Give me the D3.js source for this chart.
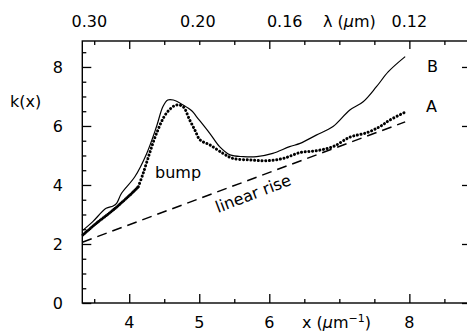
<!DOCTYPE html>
<html>
<head>
<meta charset="utf-8">
<script src="https://cdn.jsdelivr.net/npm/d3@7"></script>
<style>
  body { margin: 0; background: #fff; }
  svg text { font-family: "DejaVu Sans", sans-serif; font-size: 16px; fill: #000; }
</style>
</head>
<body>
<svg id="chart" width="467" height="331"></svg>
<script>
// curve B (thin solid)
const xB = [3.34, 3.48, 3.67, 3.77, 3.82, 3.89, 4.08, 4.25, 4.39, 4.48, 4.55, 4.63, 4.77, 4.90, 4.96,
  5.15, 5.29, 5.44, 5.63, 5.82, 6.05, 6.29, 6.44, 6.67, 6.91, 7.15, 7.34, 7.53, 7.70, 7.94];
const kB = [2.47, 2.76, 3.21, 3.29, 3.38, 3.72, 4.28, 5.07, 5.98, 6.65, 6.88, 6.88, 6.71, 6.50, 6.32,
  5.75, 5.30, 5.02, 4.96, 4.96, 5.07, 5.30, 5.41, 5.69, 5.98, 6.54, 6.82, 7.33, 7.84, 8.35];

// curve A (dots)
const xA = [3.34, 3.53, 3.77, 4.01, 4.13, 4.20, 4.29, 4.39, 4.53, 4.67, 4.77, 4.86, 4.94, 5.01, 5.15,
  5.34, 5.48, 5.72, 5.96, 6.20, 6.44, 6.67, 6.91, 7.15, 7.39, 7.58, 7.72, 7.96];
const kA = [2.31, 2.70, 3.15, 3.66, 3.94, 4.40, 5.07, 5.75, 6.43, 6.71, 6.65, 6.22, 5.85, 5.53, 5.36,
  5.07, 4.90, 4.85, 4.82, 4.90, 5.10, 5.16, 5.30, 5.62, 5.77, 5.98, 6.20, 6.49];

// linear rise (dashed)
const xRise = [3.33, 7.94];
const kRise = [2.06, 6.14];

// axes
const xMajor = [4, 5, 6, 8];
const xMinor = [3.5, 4.5, 5.5, 6.5, 7, 7.5, 8.5];
const topMajor = [4, 6, 8];
const topMinor = [3.5, 4.5, 5, 5.5, 6.5, 7, 7.5, 8.5];
const yMajor = [0, 2, 4, 6, 8];
const yMinor = [0.5, 1, 1.5, 2.5, 3, 3.5, 4.5, 5, 5.5, 6.5, 7, 7.5, 8.5];
// wavelength labels along the top, at the x positions where they sit
const lamLabels = ["0.30", "0.20", "0.16", "0.12"];
const lamAt = [3.43, 4.98, 6.22, 8.0];

const svg = d3.select("#chart");
const x = d3.scaleLinear().domain([3.33, 8.88]).range([82.3, 471]);
const y = d3.scaleLinear().domain([0, 8.88]).range([303, 41]);

// frame
svg.append("rect")
  .attr("x", x(3.33)).attr("y", y(8.88))
  .attr("width", x(8.88) - x(3.33)).attr("height", y(0) - y(8.88))
  .attr("fill", "none").attr("stroke", "#000").attr("stroke-width", 1.4);

function ticks(axis, vals, size, tx, ty) {
  const g = svg.append("g")
    .attr("transform", `translate(${tx},${ty})`)
    .call(axis.tickValues(vals).tickSize(size).tickFormat(""));
  g.select(".domain").remove();
  g.selectAll("line").attr("stroke", "#000").attr("stroke-width", 1.3);
}

ticks(d3.axisBottom(x), xMajor, -9, 0, y(0));
ticks(d3.axisBottom(x), xMinor, -4, 0, y(0));
ticks(d3.axisTop(x), topMajor, -8, 0, y(8.88));
ticks(d3.axisTop(x), topMinor, -4, 0, y(8.88));
ticks(d3.axisLeft(y), yMajor, -9, x(3.33), 0);
ticks(d3.axisLeft(y), yMinor, -4, x(3.33), 0);
ticks(d3.axisRight(y), yMajor, -9, x(8.88), 0);
ticks(d3.axisRight(y), yMinor, -4, x(8.88), 0);

// tick labels
svg.append("g").selectAll("text").data(xMajor).join("text")
  .attr("x", d => x(d)).attr("y", 328).attr("text-anchor", "middle").text(d => d);
svg.append("g").selectAll("text").data(yMajor).join("text")
  .attr("x", 63).attr("y", d => y(d) + 6).attr("text-anchor", "end").text(d => d);
svg.append("g").selectAll("text").data(lamLabels).join("text")
  .attr("x", (d, i) => x(lamAt[i])).attr("y", 27).attr("text-anchor", "middle").text(d => d);

// axis titles
svg.append("text").attr("x", 10).attr("y", 107).text("k(x)");
const xt = svg.append("text").attr("x", 302).attr("y", 328);
xt.append("tspan").text("x (");
xt.append("tspan").style("font-style", "italic").text("μ");
xt.append("tspan").text("m");
xt.append("tspan").attr("dy", -6).style("font-size", "11px").text("−1");
xt.append("tspan").attr("dy", 6).text(")");
const lt = svg.append("text").attr("x", 323).attr("y", 27);
lt.append("tspan").text("λ (");
lt.append("tspan").style("font-style", "italic").text("μ");
lt.append("tspan").text("m)");

// curves
const pts = (xs, ks) => xs.map((v, i) => [x(v), y(ks[i])]);
const line = d3.line().curve(d3.curveCatmullRom.alpha(0.5));

svg.append("path")
  .attr("d", d3.line()(pts(xRise, kRise)))
  .attr("fill", "none").attr("stroke", "#000").attr("stroke-width", 1.5)
  .attr("stroke-dasharray", "10 6");

svg.append("path")
  .attr("d", line(pts(xB, kB)))
  .attr("fill", "none").attr("stroke", "#000").attr("stroke-width", 1.2);

const ptsA = pts(xA, kA);
svg.append("path")
  .attr("d", line(ptsA.slice(0, 5)))
  .attr("fill", "none").attr("stroke", "#000").attr("stroke-width", 3)
  .attr("stroke-linecap", "round").attr("stroke-dasharray", "0.1 1.8");
svg.append("path")
  .attr("d", line(ptsA.slice(4)))
  .attr("fill", "none").attr("stroke", "#000").attr("stroke-width", 3)
  .attr("stroke-linecap", "round").attr("stroke-dasharray", "0.1 3.6");

// annotations
svg.append("text").attr("x", 427).attr("y", 72).text("B");
svg.append("text").attr("x", 426).attr("y", 112).text("A");
svg.append("text").attr("x", 155).attr("y", 178).text("bump");
svg.append("text")
  .attr("transform", "translate(218,213) rotate(-21)")
  .text("linear rise");
</script>
</body>
</html>
